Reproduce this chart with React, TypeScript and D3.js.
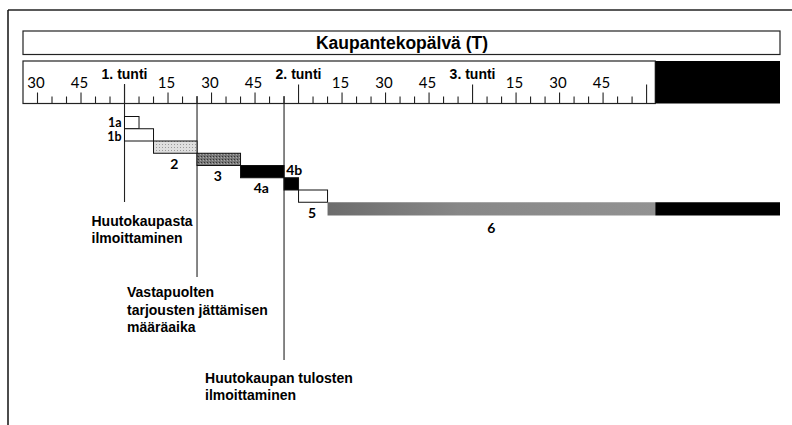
import React from 'react';
import * as d3 from 'd3';

// phases of the auction day, times in minutes from the start of hour 0
const phases = ['1a', '1b', '2', '3', '4a', '4b', '5', '6'];
const phaseStart = [60, 60, 70, 85, 100, 115, 120, 130];
const phaseEnd = [65, 70, 85, 100, 115, 120, 130, 286];
const phaseFill = ['white', 'white', 'url(#light)', 'url(#dark)', 'black', 'black', 'white', 'url(#six)'];

const hourLabels = ['1. tunti', '2. tunti', '3. tunti'];
const quarterLabels = ['15', '30', '45'];

const dayStart = 25;
const dayEnd = 243; // end of trading day on the ruler
const chartEnd = 286;

const events = [
  { t: 60, lines: ['Huutokaupasta', 'ilmoittaminen'] },
  { t: 85, lines: ['Vastapuolten', 'tarjousten jättämisen', 'määräaika'] },
  { t: 115, lines: ['Huutokaupan tulosten', 'ilmoittaminen'] },
];

const title = 'Kaupantekopälvä (T)';

const W = 792;
const H = 425;
const arial = '"Liberation Sans", Arial, sans-serif';
const gill = 'Lato, "Open Sans", sans-serif';

export default function App() {
  const x = d3.scaleLinear().domain([dayStart, chartEnd]).range([23, 780]);
  const y = d3.scaleBand().domain(phases).range([116.5, 214.5]);

  const rulerTop = 61;
  const rulerBottom = 103.5;
  const ticks = d3.range(30, 241, 5);

  // where each event line stops and its text sits
  const eventLayout = [
    { bottom: 202, top: 84, dx: -33, y0: 226, lh: 17 },
    { bottom: 277, top: 96, dx: -70, y0: 297, lh: 17.5 },
    { bottom: 360, top: 96, dx: -79, y0: 383, lh: 17 },
  ];

  return (
    <svg width={W} height={H} style={{ position: 'fixed', left: 0, top: 0, background: 'white' }}>
      <defs>
        <pattern id="light" width="3" height="3" patternUnits="userSpaceOnUse">
          <rect width="3" height="3" fill="#dedede" />
          <rect width="1" height="1" fill="#999" />
        </pattern>
        <pattern id="dark" width="3" height="3" patternUnits="userSpaceOnUse">
          <rect width="3" height="3" fill="#777" />
          <rect width="1" height="1" fill="#333" />
          <rect x="2" y="1" width="1" height="1" fill="#aaa" />
        </pattern>
        <linearGradient id="sixg" x1="0" x2="1" y1="0" y2="0">
          <stop offset="0%" stopColor="#6c6c6c" />
          <stop offset="40%" stopColor="#878787" />
          <stop offset="100%" stopColor="#929292" />
        </linearGradient>
      </defs>

      {/* frame */}
      <line x1={8} x2={W} y1={10} y2={10} stroke="#222" strokeWidth={1.5} />
      <line x1={8} x2={8} y1={10} y2={H} stroke="#111" strokeWidth={1.5} />

      {/* title box */}
      <rect x={23} y={31} width={757} height={23.5} fill="white" stroke="#222" strokeWidth={1.2} />
      <text x={402} y={49} textAnchor="middle" fontFamily={arial} fontWeight="bold" fontSize={17.5}>
        {title}
      </text>

      {/* ruler */}
      <rect x={x(dayStart)} y={rulerTop} width={x(dayEnd) - x(dayStart)} height={rulerBottom - rulerTop} fill="white" stroke="#222" strokeWidth={1.2} />
      <rect x={x(dayEnd)} y={rulerTop} width={x(chartEnd) - x(dayEnd)} height={rulerBottom - rulerTop} fill="black" />
      {ticks.map(t => {
        const h = t % 60 === 0 ? 19 : t % 15 === 0 ? 11 : 7;
        return <line key={t} x1={x(t)} x2={x(t)} y1={rulerBottom - h} y2={rulerBottom} stroke="#222" strokeWidth={1.1} />;
      })}
      {ticks.filter(t => t % 15 === 0 && t % 60 !== 0).map(t => (
        <text key={'q' + t} x={x(t) - 1.5} y={88} textAnchor="middle" fontFamily={gill} fontSize={15}>
          {quarterLabels[(t % 60) / 15 - 1]}
        </text>
      ))}
      {ticks.filter(t => t % 60 === 0 && t / 60 <= hourLabels.length).map(t => (
        <text key={'h' + t} x={x(t)} y={78.5} textAnchor="middle" fontFamily={arial} fontWeight="bold" fontSize={14}>
          {hourLabels[t / 60 - 1]}
        </text>
      ))}

      {/* event lines and notes */}
      {events.map((e, i) => {
        const L = eventLayout[i];
        return (
          <g key={i}>
            <line x1={x(e.t)} x2={x(e.t)} y1={L.top} y2={L.bottom} stroke="#222" strokeWidth={1.1} />
            {e.lines.map((s, j) => (
              <text key={j} x={x(e.t) + L.dx} y={L.y0 + j * L.lh} fontFamily={arial} fontWeight="bold" fontSize={14}>
                {s}
              </text>
            ))}
          </g>
        );
      })}

      {/* phase bars */}
      {phases.map((p, i) => {
        const x0 = x(phaseStart[i]);
        const x1 = x(phaseEnd[i]);
        const yy = y(p) as number;
        const bh = y.bandwidth();
        if (p === '6') {
          return (
            <g key={p}>
              <rect x={x0} y={yy} width={x(dayEnd) - x0} height={bh + 1} fill="url(#sixg)" />
              <rect x={x(dayEnd)} y={yy} width={x1 - x(dayEnd)} height={bh + 1} fill="black" />
            </g>
          );
        }
        return <rect key={p} x={x0} y={yy} width={x1 - x0} height={bh} fill={phaseFill[i]} stroke="#111" strokeWidth={1} />;
      })}

      {/* phase labels */}
      {phases.map((p, i) => {
        const yy = y(p) as number;
        const bh = y.bandwidth();
        let lx: number, ly: number, anchor = 'middle', fs = 14;
        if (i < 2) {
          lx = x(phaseStart[i]) - 3;
          ly = i === 0 ? 126.5 : 140.5;
          anchor = 'end';
          fs = 12.5;
        } else if (p === '4b') {
          lx = x((phaseStart[i] + phaseEnd[i]) / 2) + 3;
          ly = yy - 3;
        } else if (p === '6') {
          lx = x((phaseStart[i] + dayEnd) / 2);
          ly = yy + bh + 18;
        } else {
          lx = x((phaseStart[i] + phaseEnd[i]) / 2) - 1;
          ly = yy + bh + 15.5;
        }
        return (
          <text key={p} x={lx} y={ly} textAnchor={anchor} fontFamily={gill} fontWeight="bold" fontSize={fs}>
            {p}
          </text>
        );
      })}
    </svg>
  );
}
